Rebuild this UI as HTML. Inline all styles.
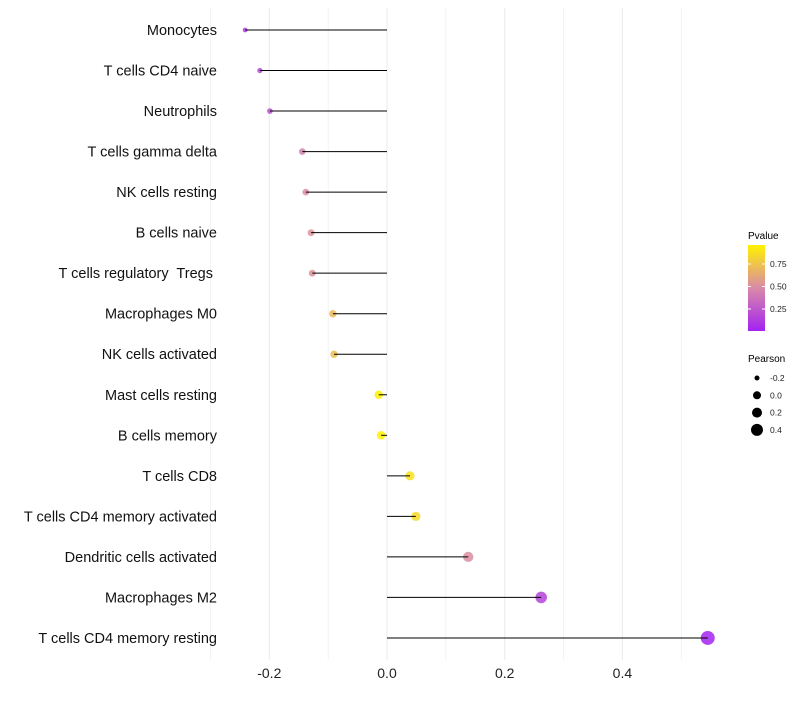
<!DOCTYPE html>
<html><head><meta charset="utf-8"><style>
body{margin:0;background:#fff;font-family:"Liberation Sans",sans-serif}
text{white-space:pre}
</style></head><body>
<svg id="chart" width="800" height="700" xmlns="http://www.w3.org/2000/svg">
<defs><linearGradient id="pg" x1="0" y1="1" x2="0" y2="0">
<stop offset="0" stop-color="#a322f2"/><stop offset="0.5" stop-color="#d98aa8"/><stop offset="1" stop-color="#fff200"/></linearGradient></defs>
<g id="grid"></g>
<g id="marks"></g>
<g id="labels"></g>
<g id="xt"></g>
<g>
<text x="748" y="239" font-size="10">Pvalue</text>
<rect x="748" y="245" width="17" height="86" fill="url(#pg)"/>
<g id="cbt"></g>
</g>
<g id="sizeleg">
<text x="748" y="362" font-size="10">Pearson</text>
</g>
</svg>
<script>
const categories=["Monocytes","T cells CD4 naive","Neutrophils","T cells gamma delta","NK cells resting","B cells naive","T cells regulatory  Tregs ","Macrophages M0","NK cells activated","Mast cells resting","B cells memory","T cells CD8","T cells CD4 memory activated","Dendritic cells activated","Macrophages M2","T cells CD4 memory resting"];
const pearson=[-0.241,-0.216,-0.199,-0.144,-0.138,-0.129,-0.127,-0.092,-0.090,-0.014,-0.010,0.039,0.049,0.138,0.262,0.545];
const pvalue=[0.12,0.18,0.22,0.45,0.5,0.52,0.52,0.7,0.72,0.95,0.95,0.88,0.85,0.5,0.15,0.01];
const xTicks=[-0.2,0,0.2,0.4];
const xTickLabels=["-0.2","0.0","0.2","0.4"];
const cbTicks=[0.25,0.5,0.75];
const sizeVals=[-0.2,0,0.2,0.4];
const NS="http://www.w3.org/2000/svg";
function mk(t,a,p){const e=document.createElementNS(NS,t);for(const k in a)e.setAttribute(k,a[k]);p.appendChild(e);return e;}
const x=v=>387+v*588.5;
const y=i=>30+i*40.53;
const r=v=>Math.sqrt(Math.max(19+55*v,2));
function lerp(a,b,t){return a.map((c,i)=>Math.round(c+(b[i]-c)*t));}
function col(p){const t=Math.min(p/0.96,1);const A=[163,34,242],M=[217,138,168],B=[255,242,0];
const c=t<0.5?lerp(A,M,t/0.5):lerp(M,B,(t-0.5)/0.5);return `rgb(${c})`;}
const grid=document.getElementById('grid');
for(let v=-0.3;v<=0.5001;v+=0.1){const l=mk('line',{x1:x(v),x2:x(v),y1:8,y2:660,stroke:'#ebebeb','stroke-width':Math.abs(Math.round(v*10))%2===0?1.1:0.6},grid);
}
const marks=document.getElementById('marks'),labels=document.getElementById('labels');
categories.forEach((c,i)=>{
const pt=mk('circle',{cx:x(pearson[i]),cy:y(i),r:r(pearson[i]),fill:col(pvalue[i]),'fill-opacity':0.85},marks);

const ln=mk('line',{x1:x(0),x2:x(pearson[i]),y1:y(i),y2:y(i),stroke:'#000','stroke-width':1},marks);

const t=mk('text',{x:217,y:y(i)+5,'text-anchor':'end','font-size':14.5,fill:'#111'},labels);t.textContent=c;

});
const xt=document.getElementById('xt');
xTicks.forEach((v,i)=>{const t=mk('text',{x:x(v),y:678,'text-anchor':'middle','font-size':14,fill:'#222'},xt);t.textContent=xTickLabels[i];
});
const cbt=document.getElementById('cbt');
const cy=p=>331.5-p*90;
cbTicks.forEach(p=>{mk('line',{x1:748,x2:751,y1:cy(p),y2:cy(p),stroke:'#fff'},cbt);mk('line',{x1:762,x2:765,y1:cy(p),y2:cy(p),stroke:'#fff'},cbt);
const t=mk('text',{x:770,y:cy(p)+3,'font-size':8.5,fill:'#222'},cbt);t.textContent=p.toFixed(2);
});
const sl=document.getElementById('sizeleg');
const sr=[2.5,4,5,6];
sizeVals.forEach((v,i)=>{const yy=378+i*17.3;const c=mk('circle',{cx:757,cy:yy,r:sr[i],fill:'#000'},sl);

const t=mk('text',{x:770,y:yy+3,'font-size':8.5,fill:'#222'},sl);t.textContent=v.toFixed(1);
});
</script>
</body></html>
